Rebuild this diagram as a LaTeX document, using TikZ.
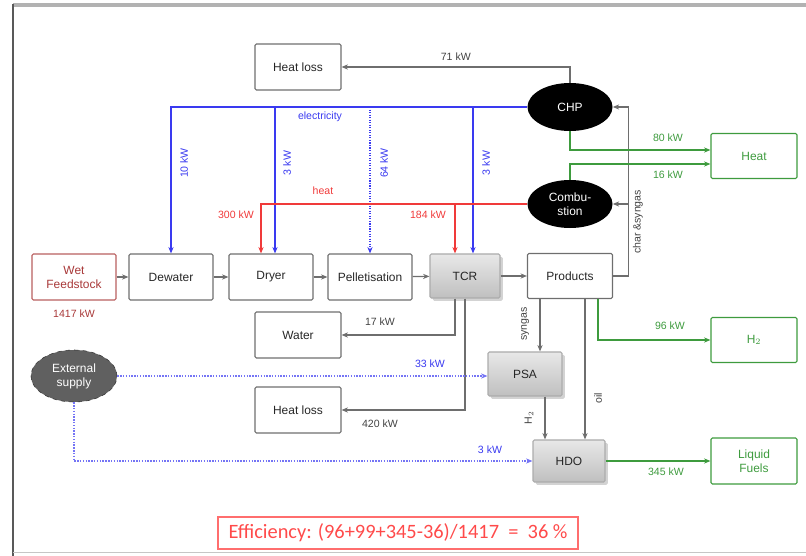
\documentclass[tikz,border=0pt]{standalone}
\usepackage{fontspec}
\setmainfont{Liberation Sans}
\newfontfamily\calfont{Carlito}
\usepackage{tikz}
\usetikzlibrary{arrows.meta, positioning, shapes.geometric, calc, shadows}

\definecolor{flowgray}{HTML}{6E6E6E}
\definecolor{elecblue}{HTML}{3A3AF0}
\definecolor{heatred}{HTML}{F03A3A}
\definecolor{outgreen}{HTML}{3E9B3E}
\definecolor{feedred}{HTML}{A83838}
\definecolor{effred}{HTML}{FF4A4A}

\begin{document}
\begin{tikzpicture}[
  x=0.025cm, y=-0.025cm,
  >={Stealth[length=1.6mm, width=1.3mm]},
  every node/.style={font=\fontsize{7.5}{9}\selectfont},
  box/.style={
    draw=flowgray, line width=0.8pt, rounded corners=1pt,
    minimum width=2.1cm, minimum height=1.15cm, inner sep=1pt,
    align=center, text=black!85, font=\fontsize{8.5}{10}\selectfont
  },
  feed/.style={box, draw=feedred!80, text=feedred},
  product/.style={box, draw=outgreen, text=outgreen, minimum width=2.15cm},
  unit/.style={box, draw=gray!65, top color=gray!18, bottom color=gray!50,
    drop shadow={opacity=0.35, shadow xshift=0.07cm, shadow yshift=-0.07cm}},
  burner/.style={ellipse, fill=black, text=white, minimum width=2.125cm,
    minimum height=1.2cm, inner sep=0pt, align=center, font=\fontsize{8.5}{10}\selectfont},
  supply/.style={ellipse, fill=gray!75!black, draw=gray!40!black, dashed, text=white,
    minimum width=2.15cm, minimum height=1.3cm, inner sep=0pt, align=center,
    font=\fontsize{8.5}{10}\selectfont},
  flow/.style={->, line width=0.8pt, flowgray},
  elec/.style={->, line width=0.8pt, elecblue},
  heat/.style={->, line width=0.8pt, heatred},
  green/.style={->, line width=0.8pt, outgreen},
  extern/.style={->, line width=1pt, elecblue!70, densely dotted},
  annot/.style={text=flowgray!60!black},
  elecnote/.style={text=elecblue},
  heatnote/.style={text=heatred},
  greennote/.style={text=outgreen}
]
\useasboundingbox (0,0) rectangle (806,556);

% --- Frame ---
\draw[line width=3pt, gray!60] (13,5) -- (806,5);
\draw[line width=2pt, gray!70!black] (13,4) -- (13,556);
\draw[line width=0.6pt, gray!45] (13,552) -- (806,552);

% --- Main process row ---
\node[feed] (feedstock) at (74,277) {Wet\\Feedstock};
\node[box] (dewater) at (171,277) {Dewater};
\node[box] (dryer) at (271,277) {Dryer};
\node[box] (pellet) at (370,277) {Pelletisation};
\node[unit, minimum width=1.75cm, minimum height=1.1cm] (tcr) at (465,276) {TCR};
\node[box, minimum width=2.125cm, minimum height=1.125cm] (products) at (570,276) {Products};

% --- Utilities ---
\node[burner] (chp) at (570,107) {CHP};
\node[burner] (comb) at (570,204) {Combu-\\stion};
\node[supply] (extsupply) at (74,376) {External\\supply};

% --- Losses ---
\node[box, minimum width=2.15cm] (lossA) at (298,67) {Heat loss};
\node[box, minimum width=2.15cm] (water) at (298,335) {Water};
\node[box, minimum width=2.15cm] (lossB) at (298,410) {Heat loss};

% --- Upgrading ---
\node[unit, minimum width=1.85cm, minimum height=1.1cm] (psa) at (525,374) {PSA};
\node[unit, minimum width=1.8cm, minimum height=1.05cm] (hdo) at (569,461) {HDO};

% --- Outputs ---
\node[product, minimum height=1.125cm] (heatout) at (754,156) {Heat};
\node[product, minimum height=1.125cm] (htwo) at (754,340) {H$_2$};
\node[product, minimum height=1.15cm] (fuels) at (754,461) {Liquid\\Fuels};

% --- Arrows: main flow ---
\draw[flow] (feedstock) -- (dewater);
\draw[flow] (dewater) -- (dryer);
\draw[flow] (dryer) -- (pellet);
\draw[flow] (pellet) -- (tcr);
\draw[flow] (tcr) -- (products);
\node[text=feedred, below=0.1cm of feedstock] (feedkw) {1417 kW};

% --- Arrows: char & syngas back to CHP / combustion ---
\draw[flow] (products.east) -- ++(15,0) |- (chp.east);
\draw[flow] ([xshift=0.375cm]products.east) |- (comb.east);
\node[annot, rotate=90] (charlbl) at (638,222) {char \&syngas};
\draw[flow] (chp.north) |- (lossA.east) node[annot, pos=0.75, above=1pt] {71 kW};

% --- Arrows: electricity ---
\draw[elec] (chp.west) -| (dewater.north);
\draw[elec] ([xshift=0.1cm]dryer.north |- chp.west) -- ([xshift=0.1cm]dryer.north);
\draw[elec, densely dotted] (pellet.north |- chp.west) -- (pellet.north);
\draw[elec] ([xshift=0.2cm]tcr.north |- chp.west) -- ([xshift=0.2cm]tcr.north);
\node[elecnote] (eleclbl) at (320,117) {electricity};
\node[elecnote, rotate=90] (kwdew) at (184,163) {10 kW};
\node[elecnote, rotate=90] (kwdry) at (287,163) {3 kW};
\node[elecnote, rotate=90] (kwpel) at (384,163) {64 kW};
\node[elecnote, rotate=90] (kwtcr) at (486,163) {3 kW};

% --- Arrows: heat ---
\draw[heat] (comb.west) -| ([xshift=-0.25cm]dryer.north);
\draw[heat] ([xshift=-0.25cm]tcr.north |- comb.west) -- ([xshift=-0.25cm]tcr.north);
\node[heatnote] (heatlbl) at (323,191) {heat};
\node[heatnote] (kwdryheat) at (236,215) {300 kW};
\node[heatnote] (kwtcrheat) at (428,215) {184 kW};

% --- Arrows: useful heat out ---
\draw[green] (chp.south) |- ([yshift=0.15cm]heatout.west);
\draw[green] (comb.north) |- ([yshift=-0.2cm]heatout.west);
\node[greennote] (kwchp) at (668,138) {80 kW};
\node[greennote] (kwcomb) at (668,175) {16 kW};

% --- Arrows: TCR losses ---
\draw[flow] ([xshift=-0.25cm]tcr.south) |- (water.east);
\draw[flow] (tcr.south) |- (lossB.east);
\node[annot] (kwwater) at (380,322) {17 kW};
\node[annot] (kwloss) at (380,424) {420 kW};

% --- Arrows: upgrading ---
\draw[flow] ([xshift=-0.75cm]products.south) -- ([xshift=-0.75cm]products.south |- psa.north);
\draw[flow] ([xshift=0.375cm]products.south) -- ([xshift=0.375cm]products.south |- hdo.north);
\draw[flow] ([xshift=0.5cm]psa.south) -- ([xshift=0.5cm]psa.south |- hdo.north);
\node[annot, rotate=90] (synlbl) at (525,324) {syngas};
\node[annot, rotate=90] (oillbl) at (598,398) {oil};
\node[annot, rotate=90] (h2lbl) at (529,418) {H$_2$};
\draw[green] ([xshift=0.7cm]products.south) |- (htwo.west);
\node[greennote] (kwh2) at (670,326) {96 kW};
\draw[green] (hdo) -- (fuels);
\node[greennote] (kwfuel) at (666,472) {345 kW};

% --- Arrows: external supply ---
\draw[extern] (extsupply.east) -- (extsupply.east -| psa.west);
\draw[extern] (extsupply.south) |- (hdo.west);
\node[elecnote] (kwpsa) at (430,364) {33 kW};
\node[elecnote] (kwhdo) at (490,450) {3 kW};

% --- Efficiency ---
\node[draw=effred!80, line width=0.8pt, text=effred, minimum width=9cm, minimum height=0.8cm,
  inner sep=2pt, font=\calfont\fontsize{14.5}{17}\selectfont] (eff) at (398,533)
  {Efficiency: (96+99+345-36)/1417~~=~~36~\%};

\end{tikzpicture}
\end{document}
